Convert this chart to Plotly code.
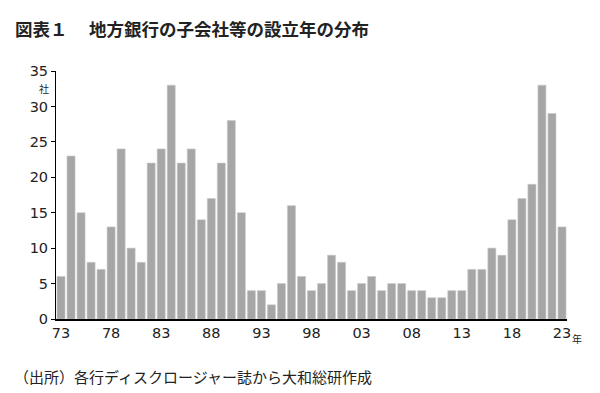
import plotly.graph_objects as go

years = list(range(1973, 2024))
counts = [6, 23, 15, 8, 7, 13, 24, 10, 8, 22, 24, 33, 22, 24, 14, 17, 22, 28, 15,
          4, 4, 2, 5, 16, 6, 4, 5, 9, 8, 4, 5, 6, 4, 5, 5, 4, 4, 3, 3, 4, 4,
          7, 7, 10, 9, 14, 17, 19, 33, 29, 13]
tick_years = [1973, 1978, 1983, 1988, 1993, 1998, 2003, 2008, 2013, 2018, 2023]
tick_labels = ["73", "78", "83", "88", "93", "98", "03", "08", "13", "18", "23"]
y_ticks = [0, 5, 10, 15, 20, 25, 30, 35]

title_text = "図表１　 地方銀行の子会社等の設立年の分布"
source_text = "（出所）各行ディスクロージャー誌から大和総研作成"
y_unit = "社"
x_unit = "年"

FONT = "Noto Sans CJK JP"
NUMFONT = "DejaVu Sans"
# page body has an 8px margin, so the figure is sized/offset to compensate
OFF = 8
L, T, R, B = 56 - OFF, 71 - OFF, 33, 74
W, H = 600 - OFF, 393 - OFF
PW, PH = W - L - R, H - T - B

fig = go.Figure()
fig.add_trace(go.Bar(
    x=years, y=counts,
    marker=dict(color="#a6a6a6", line=dict(color="#c8c8c8", width=0.6)),
    width=0.8,
    hoverinfo="x+y",
))

def py(page_y):
    # convert a page pixel y to paper coordinate
    return 1 - (page_y - OFF - T) / PH

def px(page_x):
    return (page_x - OFF - L) / PW

fig.update_layout(
    width=W, height=H,
    margin=dict(l=L, r=R, t=T, b=B),
    paper_bgcolor="white", plot_bgcolor="white",
    showlegend=False,
    font=dict(family=FONT, color="#222222"),
    xaxis=dict(
        range=[1972.5, 2023.5],
        tickmode="array", tickvals=tick_years, ticktext=tick_labels,
        showgrid=False, zeroline=False,
        showline=True, linecolor="black", linewidth=2,
        ticks="", tickfont=dict(size=14.5, family=NUMFONT, color="#222222"),
    ),
    yaxis=dict(
        range=[0, 35],
        tickmode="array", tickvals=y_ticks,
        showgrid=False, zeroline=False,
        showline=True, linecolor="black", linewidth=1,
        ticks="outside", ticklen=4, tickcolor="black",
        tickfont=dict(size=14.5, family=NUMFONT, color="#222222"),
    ),
    annotations=[
        dict(text="<b>" + title_text + "</b>", xref="paper", yref="paper",
             x=px(13), y=py(28), xanchor="left", yanchor="middle",
             showarrow=False, font=dict(size=17.5, family=FONT, color="#222222")),
        dict(text=source_text, xref="paper", yref="paper",
             x=px(12), y=py(376), xanchor="left", yanchor="middle",
             showarrow=False, font=dict(size=15, family=FONT, color="#222222")),
        dict(text=y_unit, xref="paper", yref="y",
             x=0, y=32.6, xanchor="right", yanchor="middle", xshift=-5,
             showarrow=False, font=dict(size=10, family=FONT, color="#222222")),
        dict(text=x_unit, xref="paper", yref="paper",
             x=1, y=py(338), xanchor="left", yanchor="middle", xshift=3,
             showarrow=False, font=dict(size=10, family=FONT, color="#222222")),
    ],
)

fig.write_html("out.html")
